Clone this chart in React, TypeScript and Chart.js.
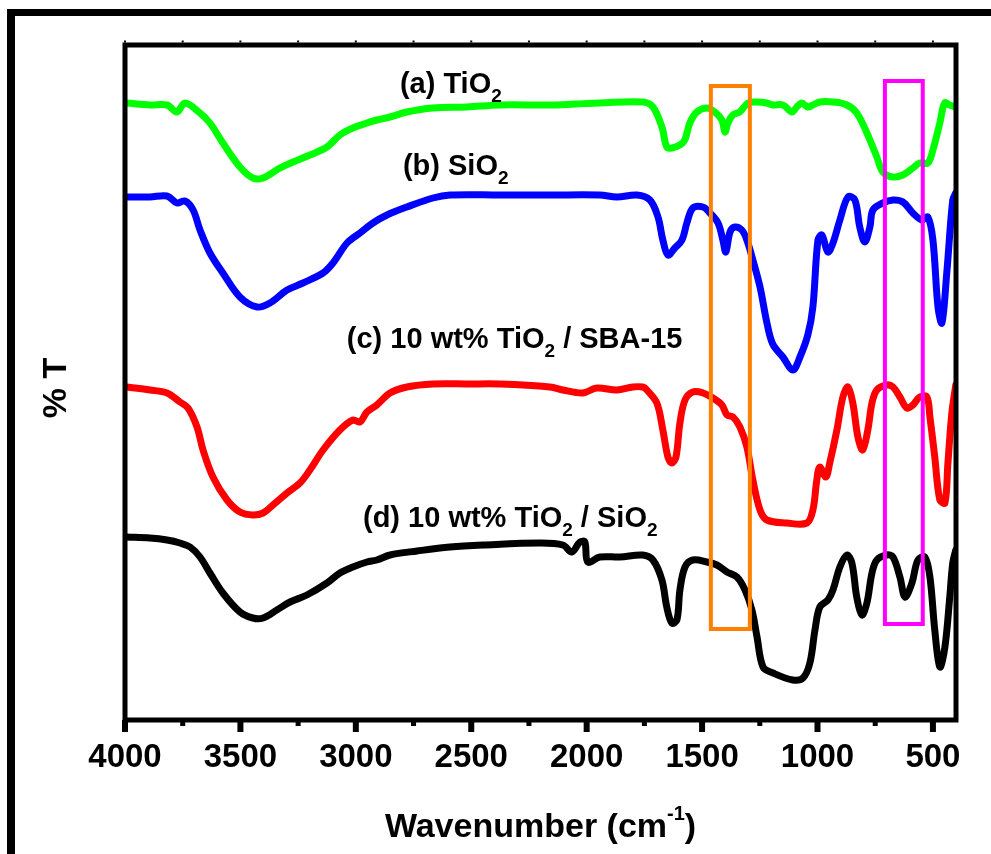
import React, { useEffect, useRef } from 'react';
import { Chart, registerables } from 'chart.js';

Chart.register(...registerables);

const W = 991;
const H = 854;
const FONT = '"Liberation Sans", Arial, Helvetica, sans-serif';

// ---- Data (wavenumber cm^-1, transmittance in arbitrary offset units) ----
const tio2Wn = [3991, 3892, 3818, 3775, 3740, 3675, 3632, 3576, 3502, 3446, 3402, 3329, 3272, 3199, 3125, 3069, 3013, 2952, 2909, 2852, 2779, 2666, 2519, 2376, 2159, 2050, 1943, 1757, 1713, 1674, 1653, 1631, 1596, 1575, 1553, 1523, 1479, 1445, 1414, 1401, 1388, 1367, 1337, 1301, 1262, 1220, 1194, 1150, 1111, 1090, 1068, 1042, 1020, 990, 934, 873, 830, 786, 743, 717, 674, 630, 587, 557, 522, 500, 470, 449, 427, 405];
const tio2T = [617, 615, 615, 608, 617, 607, 597, 577, 553, 542, 542, 552, 558, 565, 573, 585, 592, 597, 600, 603, 608, 612, 613, 615, 615, 616, 617, 618, 613, 593, 573, 572, 575, 580, 597, 608, 612, 608, 600, 588, 597, 605, 608, 617, 618, 617, 615, 615, 608, 613, 617, 613, 615, 618, 618, 615, 607, 587, 563, 548, 543, 545, 552, 557, 557, 570, 597, 617, 615, 613];

const sio2Wn = [3991, 3892, 3818, 3775, 3740, 3705, 3675, 3632, 3576, 3502, 3428, 3372, 3298, 3229, 3142, 3099, 3038, 2982, 2926, 2865, 2779, 2666, 2592, 2376, 2159, 1943, 1869, 1782, 1726, 1691, 1670, 1648, 1618, 1587, 1566, 1540, 1496, 1466, 1431, 1410, 1397, 1379, 1358, 1328, 1306, 1280, 1249, 1219, 1194, 1150, 1107, 1076, 1042, 1020, 998, 981, 955, 933, 903, 868, 838, 817, 795, 773, 760, 717, 673, 630, 587, 548, 522, 500, 478, 461, 440, 414, 401];
const sio2T = [523, 523, 524, 517, 519, 510, 490, 467, 447, 423, 413, 417, 430, 437, 447, 457, 477, 487, 497, 505, 513, 522, 525, 525, 525, 525, 523, 525, 520, 503, 480, 465, 472, 480, 497, 512, 513, 507, 497, 480, 468, 488, 493, 490, 480, 460, 433, 397, 376, 363, 350, 363, 385, 413, 480, 485, 468, 477, 500, 523, 520, 493, 478, 493, 510, 517, 520, 518, 507, 500, 503, 480, 413, 397, 447, 520, 527];

const sbaWn = [3991, 3892, 3818, 3762, 3727, 3688, 3662, 3619, 3558, 3502, 3446, 3402, 3359, 3298, 3242, 3199, 3142, 3069, 3013, 2982, 2952, 2909, 2852, 2779, 2666, 2519, 2376, 2159, 2103, 2017, 1956, 1869, 1800, 1757, 1739, 1696, 1670, 1648, 1631, 1613, 1596, 1574, 1540, 1496, 1453, 1414, 1392, 1366, 1336, 1306, 1280, 1249, 1219, 1133, 1046, 1020, 1003, 990, 964, 947, 916, 890, 868, 847, 825, 804, 782, 764, 743, 700, 673, 643, 613, 587, 557, 526, 513, 492, 470, 448, 435, 418, 401];
const sbaT = [333, 330, 327, 318, 312, 293, 270, 243, 220, 208, 205, 207, 215, 227, 237, 250, 270, 290, 300, 298, 308, 315, 327, 333, 336, 336, 336, 333, 330, 327, 332, 330, 333, 333, 330, 317, 290, 263, 257, 263, 297, 320, 328, 327, 322, 315, 305, 303, 293, 273, 240, 210, 200, 197, 197, 210, 240, 253, 243, 257, 290, 323, 333, 317, 283, 270, 290, 317, 330, 335, 333, 323, 312, 315, 323, 323, 303, 263, 220, 217, 257, 307, 335];

const tsWn = [3991, 3892, 3818, 3762, 3718, 3675, 3632, 3576, 3502, 3446, 3402, 3342, 3285, 3212, 3125, 3069, 3013, 2952, 2909, 2852, 2735, 2592, 2449, 2202, 2103, 2064, 2029, 2008, 1995, 1943, 1856, 1757, 1713, 1674, 1653, 1631, 1609, 1596, 1574, 1540, 1479, 1436, 1392, 1349, 1314, 1284, 1262, 1236, 1193, 1107, 1063, 1033, 1011, 990, 955, 933, 903, 873, 851, 830, 808, 786, 764, 743, 700, 673, 643, 621, 591, 565, 535, 513, 492, 470, 448, 427, 414, 401];
const tsT = [183, 182, 180, 177, 173, 163, 147, 127, 108, 102, 102, 110, 118, 125, 137, 147, 153, 158, 160, 165, 169, 173, 175, 177, 175, 168, 178, 178, 158, 163, 163, 165, 160, 140, 113, 97, 100, 130, 153, 160, 158, 155, 148, 143, 130, 110, 83, 53, 47, 40, 42, 57, 90, 113, 120, 130, 153, 165, 157, 123, 105, 117, 147, 160, 165, 163, 143, 123, 137, 160, 163, 143, 90, 53, 73, 123, 157, 170];

const seriesNames = ['TiO2', 'SiO2', '10 wt% TiO2 / SBA-15', '10 wt% TiO2 / SiO2'];
const seriesColors = ['#00FF00', '#0000FF', '#FF0000', '#000000'];

const xMajorTicks = [4000, 3500, 3000, 2500, 2000, 1500, 1000, 500];
const xMinorTicks = [3750, 3250, 2750, 2250, 1750, 1250, 750];

// highlighted bands: [from wn, to wn, top T, bottom T]
const orangeBand = [1462, 1293, 634, 91];
const magentaBand = [708, 544, 639, 96];

// curve labels: wavenumber of left edge, T of baseline, text parts (1 = subscript)
const curveLabels = [
  { wn: 2809, t: 627, parts: [['(a) TiO', 0], ['2', 1]] },
  { wn: 2796, t: 545, parts: [['(b) SiO', 0], ['2', 1]] },
  { wn: 3039, t: 372, parts: [['(c) 10 wt% TiO', 0], ['2', 1], [' / SBA-15', 0]] },
  { wn: 2969, t: 193, parts: [['(d) 10 wt% TiO', 0], ['2', 1], [' / SiO', 0], ['2', 1]] },
];

const xTitle = ['Wavenumber (cm', '-1', ')'];
const yTitle = '% T';

function toPoints(wn: number[], t: number[]) {
  return wn.map((w, i) => ({ x: w, y: t[i] }));
}

const decoPlugin = {
  id: 'deco',
  beforeDraw(chart: any) {
    const ctx = chart.ctx;
    ctx.save();
    ctx.fillStyle = '#000';
    ctx.fillRect(7, 9, W - 7, 7);
    ctx.fillRect(7, 9, 8, H - 9);
    ctx.restore();
  },
  afterDatasetsDraw(chart: any) {
    const ctx = chart.ctx;
    const a = chart.chartArea;
    const xs = chart.scales.x;
    const ys = chart.scales.y;
    ctx.save();

    const band = (b: number[], color: string) => {
      const x1 = xs.getPixelForValue(b[0]);
      const x2 = xs.getPixelForValue(b[1]);
      const y1 = ys.getPixelForValue(b[2]);
      const y2 = ys.getPixelForValue(b[3]);
      ctx.strokeStyle = color;
      ctx.lineWidth = 4;
      ctx.strokeRect(x1, y1, x2 - x1, y2 - y1);
    };
    band(orangeBand, '#FF8000');
    band(magentaBand, '#FF00FF');

    // frame box
    ctx.strokeStyle = '#000';
    ctx.lineWidth = 5;
    ctx.strokeRect(a.left, a.top, a.right - a.left, a.bottom - a.top);

    // ticks
    ctx.fillStyle = '#000';
    xMajorTicks.forEach((v) => {
      const px = xs.getPixelForValue(v);
      ctx.fillRect(px - 3, a.bottom, 6, 12);
      ctx.fillRect(px - 1, a.top - 4.5, 2, 2);
    });
    xMinorTicks.forEach((v) => {
      const px = xs.getPixelForValue(v);
      ctx.fillRect(px - 2.5, a.bottom, 5, 6);
      ctx.fillRect(px - 1, a.top - 4.5, 2, 2);
    });

    // curve labels
    ctx.fillStyle = '#000';
    ctx.textAlign = 'left';
    ctx.textBaseline = 'alphabetic';
    curveLabels.forEach((l) => {
      let x = xs.getPixelForValue(l.wn);
      const y = ys.getPixelForValue(l.t);
      l.parts.forEach(([txt, sub]: any) => {
        ctx.font = sub ? `bold 19px ${FONT}` : `bold 29px ${FONT}`;
        ctx.fillText(txt, x, sub ? y + 9 : y);
        x += ctx.measureText(txt).width;
      });
    });

    // x title with superscript
    const cx = (a.left + a.right) / 2;
    const base = 837;
    ctx.font = `bold 34px ${FONT}`;
    const w1 = ctx.measureText(xTitle[0]).width;
    const w3 = ctx.measureText(xTitle[2]).width;
    ctx.font = `bold 20px ${FONT}`;
    const w2 = ctx.measureText(xTitle[1]).width;
    let x0 = cx - (w1 + w2 + w3) / 2;
    ctx.font = `bold 34px ${FONT}`;
    ctx.fillText(xTitle[0], x0, base);
    x0 += w1;
    ctx.font = `bold 20px ${FONT}`;
    ctx.fillText(xTitle[1], x0, base - 17);
    x0 += w2;
    ctx.font = `bold 34px ${FONT}`;
    ctx.fillText(xTitle[2], x0, base);

    // y title
    ctx.translate(57, 388);
    ctx.rotate(-Math.PI / 2);
    ctx.textAlign = 'center';
    ctx.textBaseline = 'middle';
    ctx.font = `bold 34px ${FONT}`;
    ctx.fillText(yTitle, 0, 0);

    ctx.restore();
  },
};

export default function App() {
  const ref = useRef<HTMLCanvasElement | null>(null);

  useEffect(() => {
    if (!ref.current) return;
    const series = [
      toPoints(tio2Wn, tio2T),
      toPoints(sio2Wn, sio2T),
      toPoints(sbaWn, sbaT),
      toPoints(tsWn, tsT),
    ];
    const chart = new Chart(ref.current, {
      type: 'line',
      data: {
        datasets: series.map((d, i) => ({
          label: seriesNames[i],
          data: d,
          borderColor: seriesColors[i],
          backgroundColor: seriesColors[i],
          borderWidth: 7,
          pointRadius: 0,
          tension: 0.35,
          borderJoinStyle: 'round',
          borderCapStyle: 'round',
          fill: false,
        })),
      },
      options: {
        responsive: false,
        animation: false,
        devicePixelRatio: 1,
        layout: { padding: { left: 125, right: 35, top: 45, bottom: 0 } },
        plugins: { legend: { display: false }, tooltip: { enabled: false } },
        scales: {
          x: {
            type: 'linear',
            reverse: true,
            min: 400,
            max: 4000,
            border: { display: false },
            grid: { display: false, drawTicks: false },
            afterBuildTicks: (s: any) => {
              s.ticks = xMajorTicks.map((v) => ({ value: v }));
            },
            afterFit: (s: any) => {
              s.height = 134;
            },
            ticks: {
              color: '#000',
              padding: 18,
              maxRotation: 0,
              autoSkip: false,
              font: { family: FONT, size: 33, weight: 'bold' },
              callback: (v: any) => String(v),
            },
          },
          y: {
            display: false,
            min: 0,
            max: 675,
          },
        },
      },
      plugins: [decoPlugin],
    } as any);
    return () => chart.destroy();
  }, []);

  return (
    <div style={{ position: 'fixed', left: 0, top: 0, width: W, height: H, background: '#fff' }}>
      <canvas ref={ref} width={W} height={H} style={{ display: 'block', width: W, height: H }} />
    </div>
  );
}
